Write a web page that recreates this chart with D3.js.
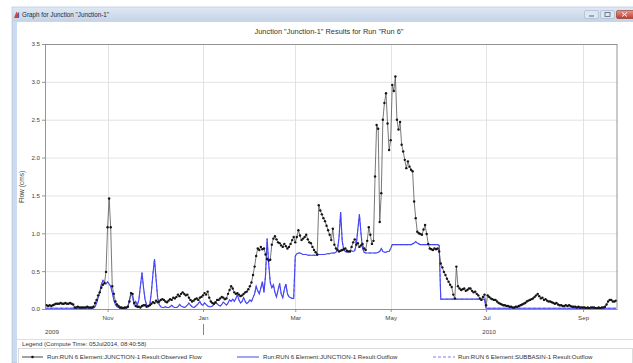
<!DOCTYPE html>
<html>
<head>
<meta charset="utf-8">
<script src="https://cdn.jsdelivr.net/npm/d3@7"></script>
<style>
  html, body { margin: 0; padding: 0; background: #fff; }
  svg { display: block; font-family: "Liberation Sans", Arial, sans-serif; }
</style>
</head>
<body>
<svg id="chart" width="633" height="363"></svg>
<script>
// ---- Text ----
const windowTitle = 'Graph for Junction "Junction-1"';
const chartTitle = 'Junction "Junction-1" Results for Run "Run 6"';
const yAxisLabel = "Flow (cms)";
const legendTitle = "Legend (Compute Time: 05Jul2014, 08:40:58)";
const seriesNames = [
  "Run:RUN 6 Element:JUNCTION-1 Result:Observed Flow",
  "Run:RUN 6 Element:JUNCTION-1 Result:Outflow",
  "Run:RUN 6 Element:SUBBASIN-1 Result:Outflow"
];

// ---- Axes ----
const firstDay = "2009-09-22";
const lastDay = "2010-09-23";
const yTicks = [0, 0.5, 1.0, 1.5, 2.0, 2.5, 3.0, 3.5];
const monthTicks = ["2009-11-01", "2010-01-01", "2010-03-01", "2010-05-01", "2010-07-01", "2010-09-01"];
const monthLabels = ["Nov", "Jan", "Mar", "May", "Jul", "Sep"];
const yearLabels = ["2009", "2010"];

// ---- Observed flow, daily (cms), 22 Sep 2009 onwards ----
const obsSep09 = [0.05,0.05,0.04,0.05,0.04,0.05,0.06,0.07,0.07];
const obsOct09 = [0.07,0.08,0.07,0.07,0.08,0.07,0.07,0.08,0.07,0.06,
                  0.02,0.02,0.03,0.02,0.02,0.02,0.02,0.02,0.03,0.02,
                  0.02,0.02,0.03,0.08,0.12,0.18,0.22,0.28,0.32,0.34,0.49];
const obsNov09 = [1.08,1.46,1.08,0.30,0.20,0.10,0.06,0.04,0.02,0.02,
                  0.01,0.02,0.02,0.03,0.10,0.21,0.20,0.08,0.04,0.03,
                  0.03,0.02,0.04,0.05,0.05,0.03,0.04,0.05,0.07,0.09];
const obsDec09 = [0.08,0.11,0.09,0.10,0.12,0.13,0.12,0.10,0.09,0.11,
                  0.13,0.12,0.15,0.14,0.16,0.19,0.17,0.20,0.22,0.20,
                  0.18,0.19,0.15,0.12,0.10,0.11,0.13,0.14,0.12,0.15,0.16];
const obsJan10 = [0.18,0.21,0.19,0.23,0.15,0.10,0.08,0.07,0.09,0.12,
                  0.12,0.14,0.16,0.15,0.13,0.14,0.20,0.25,0.30,0.27,
                  0.22,0.20,0.21,0.19,0.17,0.18,0.20,0.22,0.23,0.26,0.30];
const obsFeb10 = [0.35,0.45,0.56,0.70,0.80,0.78,0.82,0.79,0.80,0.72,
                  0.66,0.64,0.65,0.85,0.93,0.96,0.92,0.88,0.87,0.84,
                  0.82,0.86,0.83,0.80,0.82,0.86,0.91,0.95];
const obsMar10 = [0.88,0.95,1.04,0.97,0.91,0.93,0.95,0.98,0.92,0.88,
                  0.87,0.82,0.78,0.75,0.72,1.37,1.30,1.25,1.20,1.16,
                  1.10,1.04,0.98,0.91,1.06,0.85,0.80,0.78,0.76,0.77,0.78];
const obsApr10 = [0.79,0.80,0.77,0.76,0.76,0.82,0.88,0.92,0.85,0.87,
                  0.82,0.84,0.86,0.80,0.78,0.90,1.08,0.98,0.86,0.90,
                  1.75,2.43,2.38,1.15,1.53,2.50,2.72,2.85,2.45,2.10];
const obsMay10 = [2.23,2.96,2.88,3.07,2.50,2.37,2.47,2.17,2.08,1.97,
                  1.86,1.95,1.88,1.84,1.82,1.42,1.20,1.02,1.00,0.99,
                  0.98,1.05,1.11,0.99,0.86,0.80,0.79,0.78,0.80,0.79,0.80];
const obsJun10 = [0.76,0.60,0.55,0.49,0.45,0.40,0.36,0.32,0.29,0.19,
                  0.14,0.56,0.30,0.27,0.25,0.26,0.27,0.24,0.25,0.27,
                  0.27,0.24,0.22,0.23,0.20,0.18,0.14,0.12,0.16,0.19];
const obsJul10 = [0.05,0.18,0.16,0.14,0.13,0.12,0.12,0.10,0.08,0.07,
                  0.06,0.05,0.05,0.04,0.04,0.03,0.03,0.02,0.02,0.03,
                  0.03,0.04,0.05,0.06,0.07,0.08,0.10,0.11,0.12,0.13,0.14];
const obsAug10 = [0.16,0.18,0.20,0.17,0.14,0.15,0.12,0.13,0.11,0.10,
                  0.10,0.09,0.08,0.07,0.08,0.06,0.05,0.05,0.04,0.04,
                  0.05,0.04,0.05,0.04,0.03,0.03,0.03,0.02,0.03,0.02,0.02];
const obsSep10 = [0.02,0.02,0.01,0.02,0.01,0.02,0.02,0.02,0.01,0.01,
                  0.02,0.01,0.02,0.02,0.03,0.06,0.10,0.12,0.12,0.10,0.10,0.11];

// ---- Junction outflow, daily (cms) ----
const outSep09 = [0.01,0.01,0.01,0.01,0.01,0.01,0.01,0.01,0.01];
const outOct09 = [0.01,0.01,0.01,0.01,0.01,0.01,0.01,0.01,0.01,0.01,
                  0.01,0.01,0.01,0.01,0.01,0.01,0.01,0.01,0.01,0.01,
                  0.01,0.01,0.01,0.03,0.08,0.15,0.22,0.32,0.38,0.36,0.33];
const outNov09 = [0.36,0.33,0.30,0.22,0.12,0.06,0.03,0.02,0.01,0.01,
                  0.01,0.01,0.01,0.03,0.12,0.21,0.16,0.06,0.10,0.05,
                  0.12,0.30,0.48,0.28,0.12,0.05,0.03,0.06,0.22,0.46];
const outDec09 = [0.66,0.40,0.15,0.06,0.03,0.02,0.02,0.03,0.02,0.02,
                  0.03,0.05,0.03,0.02,0.02,0.03,0.06,0.04,0.03,0.02,
                  0.03,0.05,0.08,0.05,0.03,0.02,0.03,0.05,0.07,0.10,0.06];
const outJan10 = [0.05,0.08,0.06,0.04,0.03,0.03,0.04,0.06,0.08,0.07,
                  0.05,0.04,0.06,0.09,0.07,0.05,0.08,0.12,0.10,0.13,
                  0.10,0.14,0.19,0.12,0.08,0.10,0.15,0.10,0.07,0.09,0.12];
const outFeb10 = [0.10,0.15,0.20,0.30,0.24,0.20,0.28,0.36,0.22,0.45,
                  0.93,0.60,0.35,0.28,0.32,0.22,0.16,0.25,0.34,0.20,
                  0.15,0.26,0.33,0.20,0.16,0.15,0.14,0.14];
const outMar10 = [0.70,0.73,0.74,0.74,0.73,0.72,0.72,0.72,0.71,0.71,
                  0.71,0.71,0.71,0.71,0.71,0.72,0.72,0.72,0.72,0.72,
                  0.73,0.73,0.73,0.74,0.74,0.74,0.75,0.78,0.95,1.28,0.90];
const outApr10 = [0.78,0.76,0.75,0.76,0.77,0.77,0.76,0.77,0.85,1.05,
                  1.25,1.00,0.80,0.75,0.74,0.74,0.74,0.74,0.74,0.74,
                  0.74,0.74,0.75,0.76,0.80,0.76,0.75,0.75,0.76,0.76];
const outMay10 = [0.80,0.85,0.85,0.85,0.85,0.85,0.85,0.85,0.85,0.85,
                  0.85,0.85,0.85,0.85,0.86,0.87,0.89,0.87,0.86,0.85,
                  0.85,0.85,0.85,0.85,0.85,0.85,0.85,0.85,0.85,0.85,0.85];
const outJun10 = [0.84,0.13,0.13,0.13,0.13,0.13,0.13,0.13,0.13,0.13,
                  0.13,0.13,0.13,0.13,0.13,0.13,0.13,0.13,0.13,0.13,
                  0.13,0.13,0.13,0.13,0.13,0.13,0.13,0.13,0.13,0.13];
const outJul10 = [0.01,0.01,0.01,0.01,0.01,0.01,0.01,0.01,0.01,0.01,
                  0.01,0.01,0.01,0.01,0.01,0.01,0.01,0.01,0.01,0.01,
                  0.01,0.01,0.01,0.01,0.01,0.01,0.01,0.01,0.01,0.01,0.01];
const outAug10 = [0.01,0.01,0.01,0.01,0.01,0.01,0.01,0.01,0.01,0.01,
                  0.01,0.01,0.01,0.01,0.01,0.01,0.01,0.01,0.01,0.01,
                  0.01,0.01,0.01,0.01,0.01,0.01,0.01,0.01,0.01,0.01,0.01];
const outSep10 = [0.01,0.01,0.01,0.01,0.01,0.01,0.01,0.01,0.01,0.01,
                  0.01,0.01,0.01,0.01,0.01,0.01,0.01,0.01,0.01,0.01,0.01,0.01];

const observedFlow = [].concat(obsSep09, obsOct09, obsNov09, obsDec09, obsJan10, obsFeb10,
  obsMar10, obsApr10, obsMay10, obsJun10, obsJul10, obsAug10, obsSep10);
const junctionOutflow = [].concat(outSep09, outOct09, outNov09, outDec09, outJan10, outFeb10,
  outMar10, outApr10, outMay10, outJun10, outJul10, outAug10, outSep10);
// The subbasin drains straight into the junction, so both outflows are the same series.
const subbasinOutflow = junctionOutflow;

// ---- Layout ----
const W = 633, H = 363;
const plot = { left: 45, right: 617.5, top: 44, bottom: 309 };

const svg = d3.select("#chart");
const parseDay = d3.utcParse("%Y-%m-%d");
const day0 = parseDay(firstDay);
const dayOf = i => d3.utcDay.offset(day0, i);

const x = d3.scaleUtc().domain([day0, parseDay(lastDay)]).range([plot.left, plot.right]);
const y = d3.scaleLinear().domain([0, 3.5]).range([plot.bottom, plot.top]);

// ---- Window frame ----
const defs = svg.append("defs");
const tg = defs.append("linearGradient").attr("id", "titlebar").attr("x1", 0).attr("y1", 0).attr("x2", 0).attr("y2", 1);
tg.append("stop").attr("offset", "0%").attr("stop-color", "#dfe8f3");
tg.append("stop").attr("offset", "100%").attr("stop-color", "#c3d3e7");
const cg = defs.append("linearGradient").attr("id", "closebtn").attr("x1", 0).attr("y1", 0).attr("x2", 0).attr("y2", 1);
cg.append("stop").attr("offset", "0%").attr("stop-color", "#e79a8c");
cg.append("stop").attr("offset", "100%").attr("stop-color", "#c4382a");

svg.append("rect").attr("x", 0).attr("y", 0).attr("width", W).attr("height", H).attr("fill", "#ffffff");
svg.append("rect").attr("x", 12).attr("y", 7).attr("width", W - 12).attr("height", H - 7)
  .attr("fill", "#ccdcee").attr("stroke", "#a9bdd6").attr("stroke-width", 0.6);
svg.append("rect").attr("x", 12.5).attr("y", 7.5).attr("width", W - 12).attr("height", 14)
  .attr("fill", "url(#titlebar)");
svg.append("rect").attr("x", 17).attr("y", 22).attr("width", W - 17).attr("height", H - 22)
  .attr("fill", "#ffffff");

// title bar icon and caption
svg.append("path").attr("d", "M14,18 L16.5,11.5 L19,18 Z").attr("fill", "#e0412b");
svg.append("rect").attr("x", 17.5).attr("y", 12.5).attr("width", 1.6).attr("height", 5).attr("fill", "#3a5fbf");
svg.append("text").attr("x", 22).attr("y", 17.3).attr("font-size", 6.3).attr("fill", "#1d2a3a")
  .text(windowTitle);

// caption buttons
const btn = svg.append("g");
btn.append("rect").attr("x", 584.5).attr("y", 10.5).attr("width", 14).attr("height", 8).attr("rx", 1.5)
  .attr("fill", "#dde7f2").attr("stroke", "#9fb2ca").attr("stroke-width", 0.6);
btn.append("line").attr("x1", 589).attr("x2", 594).attr("y1", 16).attr("y2", 16).attr("stroke", "#58667a").attr("stroke-width", 1);
btn.append("rect").attr("x", 600.5).attr("y", 10.5).attr("width", 14).attr("height", 8).attr("rx", 1.5)
  .attr("fill", "#dde7f2").attr("stroke", "#9fb2ca").attr("stroke-width", 0.6);
btn.append("rect").attr("x", 605).attr("y", 12.5).attr("width", 5).attr("height", 4).attr("fill", "none")
  .attr("stroke", "#58667a").attr("stroke-width", 0.8);
btn.append("rect").attr("x", 616.5).attr("y", 10.5).attr("width", 18).attr("height", 8).attr("rx", 1.5)
  .attr("fill", "url(#closebtn)").attr("stroke", "#8e2f25").attr("stroke-width", 0.6);
btn.append("path").attr("d", "M622,12.5 L627,16.5 M627,12.5 L622,16.5").attr("stroke", "#fff").attr("stroke-width", 1);

// ---- Chart title ----
svg.append("text").attr("x", 329).attr("y", 33.5).attr("text-anchor", "middle")
  .attr("font-size", 7.4).attr("fill", "#333").text(chartTitle);

// ---- Grid ----
const grid = svg.append("g");
grid.selectAll("line.h").data(yTicks).join("line")
  .attr("x1", plot.left).attr("x2", plot.right)
  .attr("y1", d => y(d) + 0.5).attr("y2", d => y(d) + 0.5)
  .attr("stroke", "#dcdcdc").attr("stroke-width", 0.8);
grid.selectAll("line.v").data(monthTicks).join("line")
  .attr("x1", d => Math.round(x(parseDay(d))) + 0.5).attr("x2", d => Math.round(x(parseDay(d))) + 0.5)
  .attr("y1", plot.top).attr("y2", plot.bottom)
  .attr("stroke", "#dcdcdc").attr("stroke-width", 0.8);

// ---- Axes ----
const yAxis = svg.append("g").attr("transform", `translate(${plot.left},0)`)
  .call(d3.axisLeft(y).tickValues(yTicks).tickFormat(d3.format(".1f")).tickSize(3).tickPadding(2));
const xAxis = svg.append("g").attr("transform", `translate(0,${plot.bottom})`)
  .call(d3.axisBottom(x).tickValues(monthTicks.map(parseDay))
    .tickFormat((d, i) => monthLabels[i]).tickSize(3).tickPadding(4));
[yAxis, xAxis].forEach(g => {
  g.select(".domain").remove();
  g.selectAll("line").attr("stroke", "#666").attr("stroke-width", 0.7);
  g.selectAll("text").attr("font-size", 6.2).attr("fill", "#444")
    .attr("font-family", "'Liberation Sans', Arial, sans-serif");
});

// year row
const yearY = 333.5;
svg.append("text").attr("x", plot.left + 7).attr("y", yearY).attr("text-anchor", "middle")
  .attr("font-size", 6.2).attr("fill", "#444").text(yearLabels[0]);
svg.append("text").attr("x", x(parseDay("2010-07-01")) + 3).attr("y", yearY).attr("text-anchor", "middle")
  .attr("font-size", 6.2).attr("fill", "#444").text(yearLabels[1]);
const yearStart = Math.round(x(parseDay("2010-01-01"))) + 0.5;
svg.append("line").attr("x1", yearStart).attr("x2", yearStart).attr("y1", 324).attr("y2", 335)
  .attr("stroke", "#666").attr("stroke-width", 0.8);

// y label
svg.append("text").attr("transform", `translate(24,187) rotate(-90)`).attr("text-anchor", "middle")
  .attr("font-size", 6.6).attr("fill", "#444").text(yAxisLabel);

// ---- Series ----
svg.append("clipPath").attr("id", "plotclip").append("rect")
  .attr("x", plot.left).attr("y", plot.top - 3).attr("width", plot.right - plot.left).attr("height", plot.bottom - plot.top + 3);
const area = svg.append("g").attr("clip-path", "url(#plotclip)");
const line = d3.line().x((d, i) => x(dayOf(i))).y(d => y(d));

area.append("path").datum(subbasinOutflow).attr("d", line)
  .attr("fill", "none").attr("stroke", "#7b7bff").attr("stroke-width", 1).attr("stroke-dasharray", "3,2");
area.append("path").datum(junctionOutflow).attr("d", line)
  .attr("fill", "none").attr("stroke", "#4646f6").attr("stroke-width", 1.15);
area.append("path").datum(observedFlow).attr("d", line)
  .attr("fill", "none").attr("stroke", "#555").attr("stroke-width", 0.8);
area.selectAll("circle.obs").data(observedFlow).join("circle")
  .attr("cx", (d, i) => x(dayOf(i))).attr("cy", d => y(d)).attr("r", 1.2).attr("fill", "#151515");

// plot border
svg.append("rect").attr("x", plot.left + 0.5).attr("y", plot.top + 0.5)
  .attr("width", plot.right - plot.left - 1).attr("height", plot.bottom - plot.top)
  .attr("fill", "none").attr("stroke", "#8a8a8a").attr("stroke-width", 0.9);

// ---- Legend ----
svg.append("line").attr("x1", 17).attr("x2", W).attr("y1", 339.5).attr("y2", 339.5)
  .attr("stroke", "#d4d4d4").attr("stroke-width", 0.8);
svg.append("text").attr("x", 22).attr("y", 345.5).attr("font-size", 6.1).attr("fill", "#333").text(legendTitle);
svg.append("rect").attr("x", 18.5).attr("y", 348.5).attr("width", W - 19).attr("height", 16)
  .attr("fill", "none").attr("stroke", "#d4d4d4").attr("stroke-width", 0.8);

const legendY = 357;
const legendItems = [
  { x1: 22, x2: 43, tx: 47, stroke: "#444", dash: null, marker: true },
  { x1: 237, x2: 259, tx: 263, stroke: "#4646f6", dash: null, marker: false },
  { x1: 433, x2: 455, tx: 458, stroke: "#7b7bff", dash: "3,2", marker: false }
];
legendItems.forEach((it, i) => {
  svg.append("line").attr("x1", it.x1).attr("x2", it.x2).attr("y1", legendY).attr("y2", legendY)
    .attr("stroke", it.stroke).attr("stroke-width", 1).attr("stroke-dasharray", it.dash);
  if (it.marker) {
    svg.append("circle").attr("cx", (it.x1 + it.x2) / 2).attr("cy", legendY).attr("r", 1.3).attr("fill", "#151515");
  }
  svg.append("text").attr("x", it.tx).attr("y", legendY + 2.2).attr("font-size", 6.1).attr("fill", "#333")
    .text(seriesNames[i]);
});
</script>
</body>
</html>
